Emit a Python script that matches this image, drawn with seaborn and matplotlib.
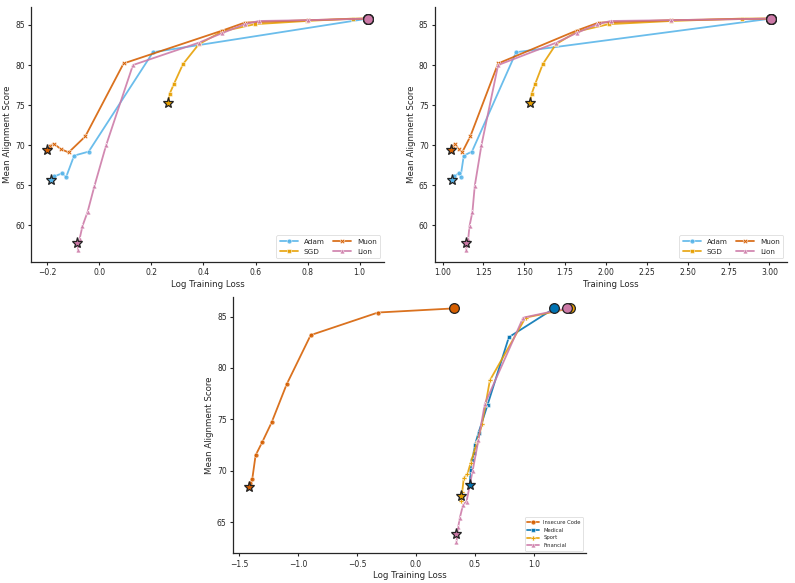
import pandas as pd
import matplotlib
matplotlib.use("Agg")
import matplotlib.pyplot as plt
import seaborn as sns

# ---- optimizer sweep (top row) ----
adam_score = [65.7, 66.1, 66.5, 66.0, 68.7, 69.2, 81.6, 85.8]
adam_logloss = [-0.185, -0.173, -0.143, -0.128, -0.097, -0.041, 0.206, 1.032]
adam_loss = [1.060, 1.070, 1.100, 1.110, 1.130, 1.180, 1.450, 3.010]

sgd_score = [75.3, 76.4, 77.6, 80.1, 82.6, 84.2, 85.1, 85.5, 85.8, 85.8]
sgd_logloss = [0.264, 0.270, 0.286, 0.321, 0.382, 0.472, 0.598, 0.797, 0.973, 1.032]
sgd_loss = [1.534, 1.545, 1.566, 1.613, 1.694, 1.825, 2.017, 2.400, 2.830, 3.010]

muon_score = [69.9, 70.2, 69.5, 69.1, 71.1, 80.2, 84.3, 85.3, 85.6, 85.8]
muon_logloss = [-0.190, -0.176, -0.147, -0.118, -0.054, 0.093, 0.472, 0.559, 0.800, 1.032]
muon_loss = [1.067, 1.075, 1.100, 1.120, 1.170, 1.340, 1.820, 1.955, 2.400, 3.010]

lion_score = [56.9, 58.3, 59.9, 61.7, 64.9, 70.0, 80.0, 82.8, 84.0, 85.1, 85.5, 85.6, 85.8]
lion_logloss = [-0.083, -0.076, -0.065, -0.045, -0.019, 0.026, 0.129, 0.383, 0.473, 0.559, 0.614, 0.800, 1.032]
lion_loss = [1.144, 1.157, 1.165, 1.183, 1.197, 1.238, 1.340, 1.697, 1.820, 1.948, 2.030, 2.400, 3.010]

optimizers = ["Adam", "SGD", "Muon", "Lion"]
opt_final_score = [65.7, 75.3, 69.4, 57.8]
opt_final_logloss = [-0.185, 0.264, -0.201, -0.086]
opt_final_loss = [1.060, 1.534, 1.051, 1.146]

# ---- dataset sweep (bottom) ----
code_score = [68.8, 69.2, 71.5, 72.8, 74.7, 78.4, 83.2, 85.4, 85.8]
code_logloss = [-1.404, -1.387, -1.359, -1.302, -1.223, -1.096, -0.892, -0.321, 0.321]

medical_score = [68.6, 70.1, 71.0, 71.7, 72.5, 73.7, 76.4, 83.0, 85.8]
medical_logloss = [0.457, 0.463, 0.475, 0.491, 0.500, 0.531, 0.607, 0.788, 1.172]

sport_score = [67.1, 67.9, 69.3, 69.7, 70.8, 72.8, 74.5, 78.8, 84.9, 85.8]
sport_logloss = [0.386, 0.392, 0.406, 0.437, 0.465, 0.519, 0.560, 0.627, 0.929, 1.305]

fin_score = [63.1, 64.5, 65.4, 66.7, 67.0, 69.95, 73.0, 76.5, 84.9, 85.8]
fin_logloss = [0.344, 0.358, 0.372, 0.400, 0.429, 0.480, 0.530, 0.584, 0.909, 1.277]

datasets = ["Insecure Code", "Medical", "Sport", "Financial"]
ds_final_score = [68.4, 68.6, 67.5, 63.8]
ds_final_logloss = [-1.415, 0.457, 0.386, 0.344]

opt_colors = {"Adam": "#56B4E9", "SGD": "#E69F00", "Muon": "#D55E00", "Lion": "#CC79A7"}
opt_markers = {"Adam": "o", "SGD": "s", "Muon": "X", "Lion": "^"}
ds_colors = {"Insecure Code": "#D55E00", "Medical": "#0072B2", "Sport": "#E69F00", "Financial": "#CC79A7"}
ds_markers = {"Insecure Code": "o", "Medical": "s", "Sport": "P", "Financial": "^"}

frames = []
for name, s, ll, l in [("Adam", adam_score, adam_logloss, adam_loss),
                       ("SGD", sgd_score, sgd_logloss, sgd_loss),
                       ("Muon", muon_score, muon_logloss, muon_loss),
                       ("Lion", lion_score, lion_logloss, lion_loss)]:
    frames.append(pd.DataFrame({"Optimizer": name, "score": s, "logloss": ll, "loss": l}))
opt_df = pd.concat(frames, ignore_index=True)

frames = []
for name, s, ll in [("Insecure Code", code_score, code_logloss),
                    ("Medical", medical_score, medical_logloss),
                    ("Sport", sport_score, sport_logloss),
                    ("Financial", fin_score, fin_logloss)]:
    frames.append(pd.DataFrame({"Dataset": name, "score": s, "logloss": ll}))
ds_df = pd.concat(frames, ignore_index=True)

sns.set_style("ticks")
plt.rcParams["font.family"] = ["DejaVu Sans"]

fig = plt.figure(figsize=(7.95, 5.83), dpi=100)
ax1 = fig.add_axes([0.039, 0.551, 0.444, 0.437])
ax2 = fig.add_axes([0.547, 0.551, 0.443, 0.437])
ax3 = fig.add_axes([0.293, 0.051, 0.444, 0.440])


def draw(ax, df, x, hue, colors, markers, finals_x, finals_y, names, legend_kw):
    sns.lineplot(data=df, x=x, y="score", hue=hue, style=hue, palette=colors,
                 markers=markers, dashes=False, sort=False, estimator=None,
                 linewidth=1.3, markersize=3.5, markeredgecolor="white",
                 markeredgewidth=0.4, alpha=0.88, ax=ax)
    # star: final checkpoint
    for n, fx, fy in zip(names, finals_x, finals_y):
        ax.plot(fx, fy, marker="*", markersize=8, color=colors[n],
                markeredgecolor="#222222", markeredgewidth=0.9, zorder=5)
    # circle: starting model
    for n in names:
        sub = df[df[hue] == n]
        ax.plot(sub[x].iloc[-1], sub["score"].iloc[-1], marker="o", markersize=7,
                color=colors[n], markeredgecolor="#222222", markeredgewidth=0.9, zorder=6)
    ax.set_ylabel("Mean Alignment Score", fontsize=6.2, labelpad=2)
    ax.tick_params(labelsize=5.5, length=2.5, width=0.8, pad=2)
    for sp in ax.spines.values():
        sp.set_linewidth(0.9)
    leg = ax.legend(loc="lower right", **legend_kw)
    leg.get_frame().set_linewidth(0.5)
    sns.despine(ax=ax)


top_leg = dict(ncol=2, fontsize=5.2, handlelength=2.5, columnspacing=1.2, borderpad=0.5)
draw(ax1, opt_df, "logloss", "Optimizer", opt_colors, opt_markers,
     opt_final_logloss, opt_final_score, optimizers, top_leg)
ax1.set_xlabel("Log Training Loss", fontsize=6.2, labelpad=2)

draw(ax2, opt_df, "loss", "Optimizer", opt_colors, opt_markers,
     opt_final_loss, opt_final_score, optimizers, top_leg)
ax2.set_xlabel("Training Loss", fontsize=6.2, labelpad=2)

draw(ax3, ds_df, "logloss", "Dataset", ds_colors, ds_markers,
     ds_final_logloss, ds_final_score, datasets,
     dict(ncol=1, fontsize=3.8, handlelength=2.2, borderpad=0.5, labelspacing=0.5))
ax3.set_xlabel("Log Training Loss", fontsize=6.2, labelpad=2)

fig.savefig("out.png", dpi=100)
